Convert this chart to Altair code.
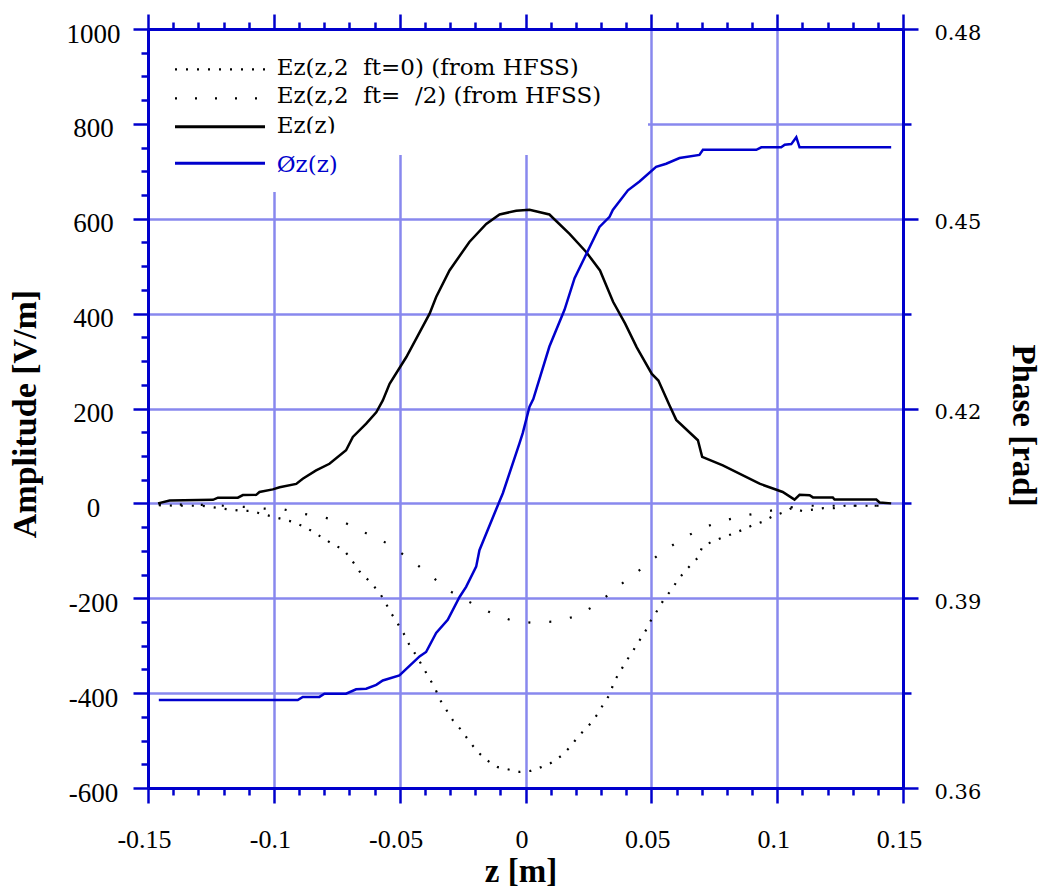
import altair as alt
import pandas as pd

# ---------------- data ----------------
ez_z = [-0.146, -0.1414, -0.1242, -0.1222, -0.1143, -0.1123, -0.107, -0.1057, -0.1004, -0.0977,
        -0.0911, -0.0885, -0.0832, -0.0779, -0.0713, -0.0686, -0.0633, -0.0593, -0.0567, -0.054,
        -0.0474, -0.0381, -0.0355, -0.0302, -0.0223, -0.0156, -0.0103, -0.0037, 0.0016, 0.0095,
        0.0175, 0.0241, 0.0296, 0.0348, 0.0396, 0.0442, 0.0502, 0.0528, 0.0572, 0.0599,
        0.0685, 0.0702, 0.0784, 0.093, 0.1022, 0.1069, 0.1089, 0.1129, 0.1142, 0.1221,
        0.1228, 0.1394, 0.1407, 0.1453]
ez_v = [0, 6, 7.5, 12, 12, 17.5, 18, 24, 29.5, 34,
        41, 52, 69.5, 83.5, 112, 140, 168, 192, 217, 252,
        308, 400, 435, 491, 551, 589, 609, 617, 619, 609,
        568, 530, 491, 425, 379, 329, 273, 259, 207, 176,
        133, 98, 80, 41.5, 24, 8, 18, 17, 12.6, 12.6,
        8, 8, 2, 0]

phase_z = [-0.1457, -0.0905, -0.0885, -0.0819, -0.0799, -0.0713, -0.0673, -0.0633, -0.0593, -0.0567,
           -0.0501, -0.0421, -0.0395, -0.0355, -0.0309, -0.0262, -0.0236, -0.0196, -0.0183, -0.0116,
           -0.009, -0.0024, -0.0011, 0.0016, 0.0031, 0.0095, 0.0155, 0.0195, 0.0294, 0.0334,
           0.0347, 0.0407, 0.0453, 0.0519, 0.0559, 0.0612, 0.0691, 0.0705, 0.0917, 0.0937,
           0.1016, 0.103, 0.1056, 0.1076, 0.1089, 0.1453]
phase_v = [0.3739, 0.3739, 0.3744, 0.3744, 0.3749, 0.3749, 0.3756, 0.3757, 0.3763, 0.377,
           0.3778, 0.3808, 0.3815, 0.3845, 0.3866, 0.3902, 0.3918, 0.395, 0.3976, 0.4041,
           0.4066, 0.4145, 0.4161, 0.4203, 0.4215, 0.4298, 0.4356, 0.4406, 0.4487, 0.4503,
           0.4514, 0.4545, 0.4559, 0.4582, 0.4587, 0.4596, 0.4601, 0.4609, 0.4609, 0.4613,
           0.4613, 0.4617, 0.4618, 0.4629, 0.4613, 0.4613]

ft0_z = [-0.1457, -0.1368, -0.1285, -0.1247, -0.1127, -0.1084, -0.1052, -0.1011, -0.0967, -0.0925,
         -0.0889, -0.085, -0.0808, -0.0766, -0.0722, -0.069, -0.066, -0.0617, -0.058, -0.0556,
         -0.0533, -0.0506, -0.048, -0.0459, -0.0432, -0.0408, -0.0384, -0.0359, -0.0342, -0.0315,
         -0.0289, -0.0252, -0.0223, -0.0188, -0.0152, -0.011, -0.0067, -0.0024, 0.002, 0.0062,
         0.0102, 0.0146, 0.0178, 0.021, 0.0252, 0.0284, 0.031, 0.0337, 0.035, 0.0374,
         0.04, 0.0427, 0.0453, 0.048, 0.0501, 0.0522, 0.0548, 0.058, 0.0607, 0.0644,
         0.0686, 0.0702, 0.0739, 0.0782, 0.0824, 0.0866, 0.0898, 0.0941, 0.0983, 0.1025,
         0.1057, 0.1099, 0.1142, 0.1184, 0.1227, 0.1269, 0.1438]
ft0_v = [-4, -5, -5, -8, -16, -16, -22, -27, -33, -39,
         -47, -58, -72, -86, -98, -120, -143, -166, -188, -210,
         -232, -255, -278, -301, -322, -345, -367, -390, -412, -435,
         -457, -480, -502, -525, -542, -556, -561, -566, -564, -556,
         -547, -531, -513, -491, -468, -446, -423, -401, -378, -356,
         -333, -311, -289, -266, -244, -227, -204, -182, -160, -137,
         -114, -92, -81, -72, -64, -55, -47, -39, -27, -19,
         -10, -16, -13, -10, -10, -5, -5]

fth_z = [-0.1457, -0.13, -0.12, -0.11, -0.1044, -0.0958, -0.0882, -0.0797, -0.0713, -0.0629,
         -0.0543, -0.047, -0.0385, -0.0311, -0.0226, -0.014, -0.0054, 0.0031, 0.0116, 0.0201,
         0.0284, 0.0358, 0.0443, 0.0528, 0.0612, 0.0697, 0.0771, 0.0856, 0.0941, 0.1025,
         0.111, 0.1438]
fth_v = [-2, -3, -5, -8, -11, -13, -22, -30, -42, -64,
         -86, -114, -148, -182, -207, -230, -247, -252, -249, -238,
         -213, -179, -145, -109, -78, -53, -39, -27, -19, -10,
         -5, -5]

x_major = [-0.15, -0.1, -0.05, 0, 0.05, 0.1, 0.15]
x_inner = [-0.1, -0.05, 0, 0.05, 0.1]
x_minor = [-0.14, -0.13, -0.12, -0.11, -0.09, -0.08, -0.07, -0.06, -0.04, -0.03, -0.02, -0.01,
           0.01, 0.02, 0.03, 0.04, 0.06, 0.07, 0.08, 0.09, 0.11, 0.12, 0.13, 0.14]
amp_major = [-600, -400, -200, 0, 200, 400, 600, 800, 1000]
amp_inner = [-400, -200, 0, 200, 400, 600, 800]
amp_minor = [-550, -500, -450, -350, -300, -250, -150, -100, -50, 50, 100, 150,
             250, 300, 350, 450, 500, 550, 650, 700, 750, 850, 900, 950]
ph_major = [0.36, 0.39, 0.42, 0.45, 0.48]
ph_minor = [0.375, 0.405, 0.435, 0.465]

# the symbol-font characters (pi) are blank in the reference; gaps kept with no-break spaces
legend_labels = ["Ez(z,2\u00a0\u00a0ft=0) (from HFSS)",
                 "Ez(z,2\u00a0\u00a0ft=\u00a0\u00a0/2) (from HFSS)",
                 "Ez(z)", "Øz(z)"]
x_title = "z [m]"
y_title = "Amplitude [V/m]"
y2_title = "Phase [rad]"

# ---------------- styling ----------------
BLUE = "#0000cc"
GRID = "#8888ee"
SERIF = "Liberation Serif"
SERIF2 = "DejaVu Serif"

ez_df = pd.DataFrame({"z": ez_z, "v": ez_v})
ph_df = pd.DataFrame({"z": phase_z, "v": phase_v})
ft0_df = pd.DataFrame({"z": ft0_z, "v": ft0_v})
fth_df = pd.DataFrame({"z": fth_z, "v": fth_v})

xs = alt.Scale(domain=[-0.15, 0.15], nice=False, zero=False)
ya = alt.Scale(domain=[-600, 1000], nice=False, zero=False)
yp = alt.Scale(domain=[0.36, 0.48], nice=False, zero=False)


def tick_axis(**kw):
    base = dict(domainColor=BLUE, domainWidth=3, tickColor=BLUE, tickWidth=2.5,
                grid=False, zindex=1, labelColor="black")
    base.update(kw)
    return alt.Axis(**base)


def grid_axis(orient, values):
    return alt.Axis(orient=orient, values=values, grid=True, gridColor=GRID, gridWidth=2.5,
                    gridOpacity=1, ticks=False, labels=False, domain=False, title=None, zindex=0)


ax_x_bottom = tick_axis(orient="bottom", values=x_major, tickSize=15, labelFont=SERIF,
                        labelFontSize=26, labelPadding=23.5, labelOffset=-4, labelBaseline="top",
                        labelFlush=False, labelOverlap=False, labelExpr="datum.value + ''",
                        title=x_title, titleFont=SERIF, titleFontSize=33, titleFontWeight="bold",
                        titleX=372.5, titleY=93, titleAlign="center", titleBaseline="alphabetic",
                        titleAngle=0, titleColor="black")
ax_x_bottom_minor = tick_axis(orient="bottom", values=x_minor, tickSize=7, labels=False,
                              domain=False, title=None)
ax_x_top = tick_axis(orient="top", values=x_major, tickSize=15, labels=False, title=None)
ax_x_top_minor = tick_axis(orient="top", values=x_minor, tickSize=7, labels=False,
                           domain=False, title=None)

ax_y_left = tick_axis(orient="left", values=amp_major, tickSize=15, labelFont=SERIF,
                      labelFontSize=27, labelAlign="center", labelBaseline="middle",
                      labelPadding=40, labelOffset=5, labelExpr="datum.value + ''",
                      title=y_title, titleFont=SERIF, titleFontSize=34, titleFontWeight="bold",
                      titleX=-122.5, titleY=384.5, titleAngle=270, titleAlign="center",
                      titleBaseline="middle", titleColor="black")
ax_y_left_minor = tick_axis(orient="left", values=amp_minor, tickSize=7, labels=False,
                            domain=False, title=None)
ax_y_right = tick_axis(orient="right", values=ph_major, tickSize=15, labelFont=SERIF2,
                       labelFontSize=21, labelAlign="left", labelBaseline="middle",
                       labelPadding=16, labelOffset=4, format=".2f",
                       title=y2_title, titleFont=SERIF, titleFontSize=33, titleFontWeight="bold",
                       titleX=119, titleY=396, titleAngle=90, titleAlign="center",
                       titleBaseline="middle", titleColor="black")
ax_y_right_minor = tick_axis(orient="right", values=ph_minor, tickSize=8, labels=False,
                             domain=False, title=None)

# ---------------- data layers ----------------
ez_line = alt.Chart(ez_df).mark_line(color="black", strokeWidth=2.5).encode(
    x=alt.X("z:Q", scale=xs, axis=ax_x_bottom),
    y=alt.Y("v:Q", scale=ya, axis=ax_y_left),
)
ft0_line = alt.Chart(ft0_df).mark_line(color="black", strokeWidth=2.2, strokeDash=[2, 9],
                                       strokeCap="butt").encode(
    x=alt.X("z:Q", scale=xs, axis=ax_x_bottom_minor),
    y=alt.Y("v:Q", scale=ya, axis=ax_y_left_minor),
)
fth_line = alt.Chart(fth_df).mark_line(color="black", strokeWidth=2.2, strokeDash=[2, 19],
                                       strokeCap="butt").encode(
    x=alt.X("z:Q", scale=xs, axis=ax_x_top),
    y=alt.Y("v:Q", scale=ya, axis=grid_axis("left", amp_inner)),
)
ph_line = alt.Chart(ph_df).mark_line(color=BLUE, strokeWidth=2.5).encode(
    x=alt.X("z:Q", scale=xs, axis=ax_x_top_minor),
    y=alt.Y("v:Q", scale=yp, axis=ax_y_right),
)
ph_ghost = alt.Chart(ph_df).mark_line(color=BLUE, strokeOpacity=0).encode(
    x=alt.X("z:Q", scale=xs, axis=grid_axis("bottom", x_inner)),
    y=alt.Y("v:Q", scale=yp, axis=ax_y_right_minor),
)

# ---------------- legend (drawn in pixel space) ----------------
one = pd.DataFrame({"k": [0]})


def box(x0, x1, y0, y1):
    return alt.Chart(one).mark_rect(color="white").encode(
        x=alt.value(x0), x2=alt.value(x1), y=alt.value(y0), y2=alt.value(y1))


def swatch(y, color, dash=None, width=2.5):
    kw = dict(color=color, strokeWidth=width, strokeCap="butt")
    if dash is not None:
        kw["strokeDash"] = dash
    return alt.Chart(one).mark_rule(**kw).encode(
        x=alt.value(27), x2=alt.value(117), y=alt.value(y))


def label(i, y, color):
    return alt.Chart(pd.DataFrame({"label": [legend_labels[i]]})).mark_text(
        align="left", baseline="alphabetic", font=SERIF2, fontSize=23, color=color
    ).encode(x=alt.value(128.7), y=alt.value(y), text="label:N")


legend_layers = [
    box(2, 500, 2, 126),
    swatch(40.3, "black", [2, 9], 2.2), label(0, 46, "black"),
    swatch(69.3, "black", [2, 18], 2.2), label(1, 74, "black"),
    swatch(97.8, "black", None, 3), label(2, 104, "black"),
    box(2, 197, 104.5, 163),
    swatch(134.3, BLUE, None, 3), label(3, 142.5, BLUE),
]

chart = alt.layer(ez_line, ft0_line, fth_line, ph_line, ph_ghost, *legend_layers).resolve_scale(
    x="shared", y="independent"
).resolve_axis(
    x="independent", y="independent"
).properties(
    width=755, height=759,
    padding={"left": 148, "top": 29, "right": 139, "bottom": 99},
    autosize=alt.AutoSizeParams(type="none"),
    background="white",
).configure_view(strokeWidth=0)

chart.save("out.html", embed_options={"renderer": "svg", "actions": False})
